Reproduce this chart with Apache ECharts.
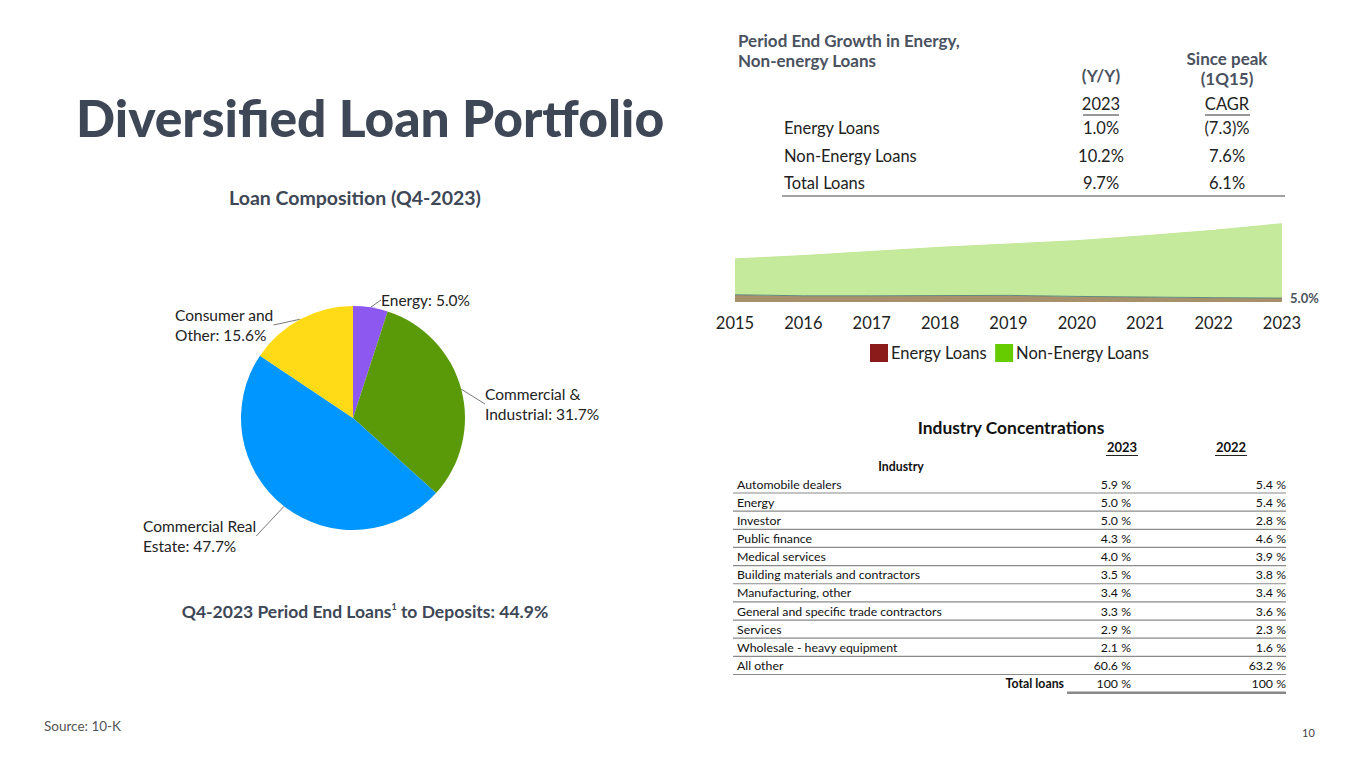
<!DOCTYPE html>
<html lang="en">
  <head>
    <meta charset="UTF-8" />
    <title>Diversified Loan Portfolio</title>
    <style>
      * {
        padding: 0;
        margin: 0;
      }
      body {
        background: #fff;
      }
    </style>
    <script src="https://cdn.jsdelivr.net/npm/echarts@6/dist/echarts.min.js"></script>
  </head>
  <body>
    <div id="main" style="width: 1365px; height: 768px;"></div>
    <script type="text/javascript">
      // pie: loan composition Q4-2023
      const pieNames = ['Energy', 'Commercial &\nIndustrial', 'Commercial Real\nEstate', 'Consumer and\nOther'];
      const pieShares = [5.0, 31.7, 47.7, 15.6];
      const pieColors = ['#8c58f0', '#5a9a08', '#0096ff', '#fedb16'];

      // area: loans by year, $ billions
      const years = ['2015', '2016', '2017', '2018', '2019', '2020', '2021', '2022', '2023'];
      const energyLoans = [1.75, 1.5, 1.5, 1.55, 1.6, 1.35, 1.2, 1.05, 0.95];
      const nonEnergyLoans = [8.65, 9.7, 10.7, 11.65, 12.4, 13.45, 14.8, 16.25, 17.95];

      // growth table
      const growthRows = ['Energy Loans', 'Non-Energy Loans', 'Total Loans'];
      const growthYoY = ['1.0%', '10.2%', '9.7%'];
      const growthCAGR = ['(7.3)%', '7.6%', '6.1%'];

      // industry concentrations
      const industries = [
        'Automobile dealers', 'Energy', 'Investor', 'Public finance', 'Medical services',
        'Building materials and contractors', 'Manufacturing, other',
        'General and specific trade contractors', 'Services', 'Wholesale - heavy equipment', 'All other'
      ];
      const share2023 = [5.9, 5.0, 5.0, 4.3, 4.0, 3.5, 3.4, 3.3, 2.9, 2.1, 60.6];
      const share2022 = [5.4, 5.4, 2.8, 4.6, 3.9, 3.8, 3.4, 3.6, 2.3, 1.6, 63.2];

      const FONT = 'Lato, "Noto Sans", sans-serif';
      const DARK = '#3e4756';

      function txt(x, y, text, opts) {
        return {
          type: 'text',
          x: x,
          y: y,
          silent: true,
          style: Object.assign({
            text: text,
            fontFamily: FONT,
            fontSize: 15,
            fill: '#222',
            align: 'left',
            verticalAlign: 'middle'
          }, opts || {})
        };
      }
      function line(x1, y1, x2, y2, stroke, w) {
        return {
          type: 'line',
          silent: true,
          shape: {x1: x1, y1: y1, x2: x2, y2: y2},
          style: {stroke: stroke || '#555', lineWidth: w || 1}
        };
      }

      const graphics = [];
      graphics.push(txt(76, 117, 'Diversified Loan Portfolio', {fontSize: 51.5, fontWeight: 900, fill: DARK}));
      graphics.push(txt(355, 197, 'Loan Composition (Q4-2023)', {fontSize: 19.5, fontWeight: 'bold', fill: DARK, align: 'center'}));
      graphics.push({
        type: 'text', x: 365, y: 611, silent: true,
        style: {
          text: '{a|Q4-2023 Period End Loans}{s|1}{a| to Deposits: 44.9%}',
          align: 'center', verticalAlign: 'middle',
          rich: {
            a: {fontFamily: FONT, fontSize: 17.5, fontWeight: 'bold', fill: DARK},
            s: {fontFamily: FONT, fontSize: 9, fontWeight: 'bold', fill: DARK, verticalAlign: 'top', padding: [0, 0, 9, 0]}
          }
        }
      });
      graphics.push(txt(44, 726, 'Source: 10-K', {fontSize: 13.5, fill: '#555'}));
      graphics.push(txt(1302, 732, '10', {fontSize: 11, fill: '#444'}));

      // growth table
      const HEAD = {fontSize: 17, fontWeight: 'bold', fill: '#4a5260'};
      graphics.push(txt(738, 40, 'Period End Growth in Energy,', HEAD));
      graphics.push(txt(738, 60, 'Non-energy Loans', HEAD));
      graphics.push(txt(1101, 75, '(Y/Y)', Object.assign({align: 'center'}, HEAD)));
      graphics.push(txt(1227, 58, 'Since peak', Object.assign({align: 'center'}, HEAD)));
      graphics.push(txt(1227, 78, '(1Q15)', Object.assign({align: 'center'}, HEAD)));
      graphics.push(txt(1101, 104, '2023', {fontSize: 16.5, align: 'center'}));
      graphics.push(line(1083, 115, 1119, 115, '#333', 1));
      graphics.push(txt(1227, 104, 'CAGR', {fontSize: 16.5, align: 'center'}));
      graphics.push(line(1205, 115, 1250, 115, '#333', 1));
      growthRows.forEach(function (r, i) {
        const y = 128 + i * 27.5;
        graphics.push(txt(784, y, r, {fontSize: 16.5}));
        graphics.push(txt(1101, y, growthYoY[i], {fontSize: 16.5, align: 'center'}));
        graphics.push(txt(1227, y, growthCAGR[i], {fontSize: 16.5, align: 'center'}));
      });
      graphics.push(line(782, 196, 1285, 196, '#444', 1));

      // industry table
      const ROW = {fontSize: 12.3, fill: '#111'};
      graphics.push(txt(1011, 427, 'Industry Concentrations', {fontSize: 17.4, fontWeight: 'bold', fill: '#111', align: 'center'}));
      graphics.push(txt(1122, 447, '2023', {fontSize: 13, fontWeight: 'bold', fill: '#111', align: 'center'}));
      graphics.push(line(1106, 455.5, 1138, 455.5, '#222', 1));
      graphics.push(txt(1231, 447, '2022', {fontSize: 13, fontWeight: 'bold', fill: '#111', align: 'center'}));
      graphics.push(line(1215, 455.5, 1247, 455.5, '#222', 1));
      graphics.push(txt(901, 466, 'Industry', {fontSize: 12.3, fontWeight: 'bold', fill: '#111', align: 'center'}));
      industries.forEach(function (name, i) {
        const y = 484 + i * 18.15;
        graphics.push(txt(737, y, name, ROW));
        graphics.push(txt(1131, y, share2023[i].toFixed(1) + ' %', Object.assign({align: 'right'}, ROW)));
        graphics.push(txt(1286, y, share2022[i].toFixed(1) + ' %', Object.assign({align: 'right'}, ROW)));
        graphics.push(line(733, y + 9, 1286, y + 9, '#8a8a8a', 1.2));
      });
      const totalY = 484 + industries.length * 18.15;
      const sum23 = Math.round(share2023.reduce((a, b) => a + b, 0));
      const sum22 = Math.round(share2022.reduce((a, b) => a + b, 0));
      graphics.push(txt(1064, totalY, 'Total loans', Object.assign({}, ROW, {fontWeight: 'bold', align: 'right'})));
      graphics.push(txt(1131, totalY, sum23 + ' %', Object.assign({align: 'right'}, ROW)));
      graphics.push(txt(1286, totalY, sum22 + ' %', Object.assign({align: 'right'}, ROW)));
      graphics.push(line(1067, totalY + 9, 1286, totalY + 9, '#888', 2.5));

      // label anchor points for the pie, by slice
      const pieLabelPos = [
        {x: 381, y: 300},
        {x: 485, y: 404},
        {x: 143, y: 536},
        {x: 175, y: 325}
      ];

      var myChart = echarts.init(document.getElementById('main'), null, {renderer: 'svg'});

      var option = {
        animation: false,
        textStyle: {fontFamily: FONT},
        graphic: graphics,
        legend: {
          data: [
            {name: 'Energy Loans', itemStyle: {color: '#8b1a1a'}},
            {name: 'Non-Energy Loans', itemStyle: {color: '#66cc00'}}
          ],
          icon: 'rect',
          itemWidth: 18,
          itemHeight: 18,
          itemGap: 8,
          left: 865,
          top: 339,
          textStyle: {fontSize: 16.5, color: '#222', fontFamily: FONT, padding: [0, 0, 0, -2]}
        },
        grid: {left: 735, right: 83, top: 215, bottom: 466},
        xAxis: {
          type: 'category',
          boundaryGap: false,
          data: years,
          axisLine: {show: false},
          axisTick: {show: false},
          axisLabel: {fontSize: 16.5, color: '#222', margin: 12, fontFamily: FONT}
        },
        yAxis: {type: 'value', min: 0, max: 21, show: false, splitLine: {show: false}},
        series: [
          {
            name: 'Energy Loans',
            type: 'line',
            stack: 'loans',
            data: energyLoans,
            showSymbol: false,
            silent: true,
            itemStyle: {color: '#8b1a1a'},
            lineStyle: {color: '#5f8a7e', width: 1},
            areaStyle: {color: '#a8916a', opacity: 1},
            endLabel: {
              show: true,
              formatter: pieShares[0].toFixed(1) + '%',
              fontSize: 13,
              fontWeight: 'bold',
              color: '#4a5260',
              distance: 8,
              offset: [0, 0]
            }
          },
          {
            name: 'Non-Energy Loans',
            type: 'line',
            stack: 'loans',
            data: nonEnergyLoans,
            showSymbol: false,
            silent: true,
            itemStyle: {color: '#66cc00'},
            lineStyle: {color: '#c2e796', width: 1},
            areaStyle: {color: '#c5ea9c', opacity: 1}
          },
          {
            name: 'Loan Composition',
            type: 'pie',
            center: [353, 418],
            radius: 112,
            startAngle: 90,
            silent: true,
            data: pieShares.map((v, i) => ({
              name: pieNames[i],
              value: v,
              itemStyle: {color: pieColors[i]}
            })),
            label: {
              show: true,
              formatter: p => p.name + ': ' + p.value.toFixed(1) + '%',
              fontSize: 15.5,
              lineHeight: 20,
              color: '#222',
              fontFamily: FONT,
              align: 'left'
            },
            labelLine: {
              show: true,
              length: 10,
              length2: 0,
              lineStyle: {color: '#555', width: 0.8}
            },
            labelLayout: function (params) {
              const p = pieLabelPos[params.dataIndex];
              return {x: p.x, y: p.y, align: 'left', verticalAlign: 'middle'};
            },
            emphasis: {disabled: true}
          }
        ]
      };

      myChart.setOption(option, true);
    </script>
  </body>
</html>
